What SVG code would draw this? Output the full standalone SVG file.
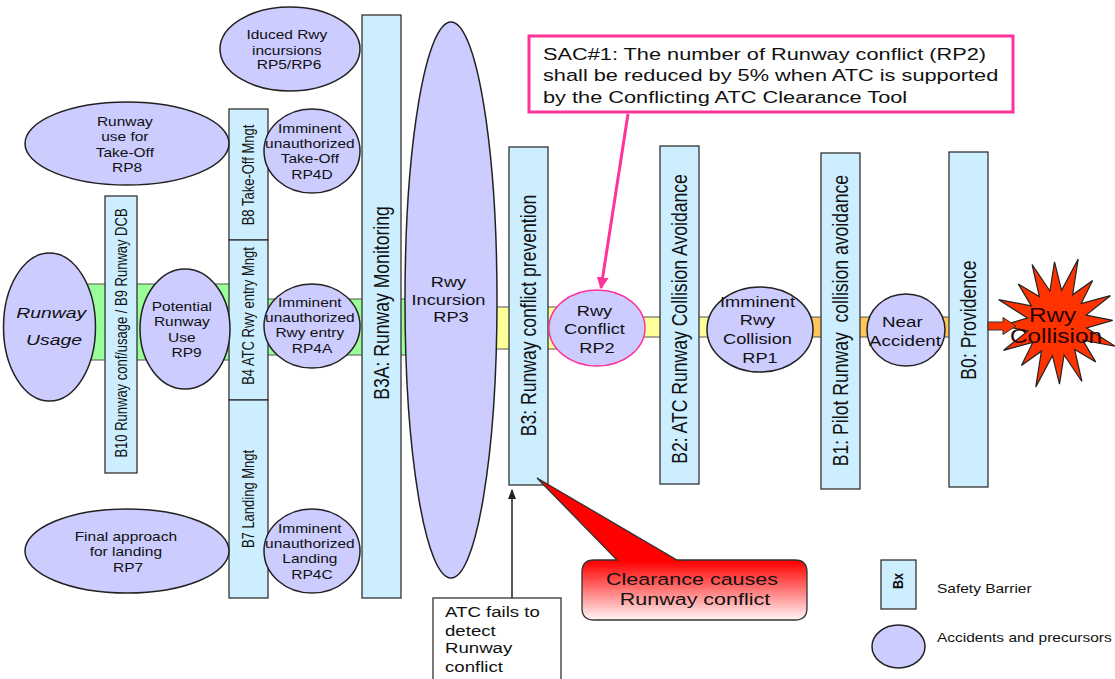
<svg xmlns="http://www.w3.org/2000/svg" width="1115" height="679" viewBox="0 0 1115 679">
  <defs>
    <style>
      text { font-family: "Liberation Sans", Arial, Helvetica, sans-serif; fill: #111; }
      .bar { fill: #CCEEFF; stroke: #333; stroke-width: 1.3; }
      .rp { fill: #CCCCFF; stroke: #222; stroke-width: 1.5; }
      .band { stroke: #555; stroke-width: 1; }
      .green { fill: #99FF99; }
      .yellow { fill: #FFFF99; }
      .orange { fill: #FFC65C; }
      .sm { font-size: 12.4px; }
      .md { font-size: 14.6px; }
      .vt { font-size: 17.6px; }
      .vs { font-size: 13px; }
      .c { text-anchor: middle; }
    </style>
    <linearGradient id="calloutFill" gradientUnits="userSpaceOnUse" x1="0" y1="478" x2="0" y2="622">
      <stop offset="0" stop-color="#FF0000"/>
      <stop offset="0.58" stop-color="#FF0000"/>
      <stop offset="1" stop-color="#FFFFFF"/>
    </linearGradient>
    <marker id="pinkHead" viewBox="0 0 10 10" refX="9" refY="5" markerWidth="4" markerHeight="4" orient="auto">
      <path d="M0,0 L10,5 L0,10 Z" fill="#FF3399"/>
    </marker>
    <marker id="blackHead" viewBox="0 0 10 10" refX="9" refY="5" markerWidth="7" markerHeight="7" orient="auto">
      <path d="M0,1 L10,5 L0,9 Z" fill="#222"/>
    </marker>
  </defs>

  <rect width="1115" height="679" fill="#FFFFFF"/>

  <!-- flow pipes and arrows -->
  <g id="connectors">
    <rect class="band green" x="85" y="284" width="146" height="76"/>
    <rect class="band green" x="266" y="299" width="146" height="56"/>
    <rect class="band yellow" x="490" y="307" width="70" height="42"/>
    <rect class="band yellow" x="560" y="317" width="152" height="20"/>
    <rect class="band orange" x="810" y="317" width="142" height="20"/>
    <line x1="628" y1="114" x2="601" y2="288" stroke="#FF3399" stroke-width="3" marker-end="url(#pinkHead)"/>
    <line x1="512" y1="598" x2="512" y2="490" stroke="#222" stroke-width="1.5" marker-end="url(#blackHead)"/>
  </g>

  <!-- safety barriers -->
  <g id="b10-b9">
    <rect class="bar" x="105" y="196" width="32" height="277"/>
    <text class="vs c" transform="translate(121 333) scale(1.25 1) rotate(-90)" dy="0.35em">B10 Runway conf/usage / B9 Runway DCB</text>
  </g>
  <g id="b8">
    <rect class="bar" x="229" y="109" width="39" height="131"/>
    <text class="vs c" transform="translate(248.5 175) scale(1.25 1) rotate(-90)" dy="0.35em">B8 Take-Off Mngt</text>
  </g>
  <g id="b4">
    <rect class="bar" x="229" y="240" width="39" height="160"/>
    <text class="vs c" transform="translate(248.5 316) scale(1.25 1) rotate(-90)" dy="0.35em">B4 ATC Rwy entry Mngt</text>
  </g>
  <g id="b7">
    <rect class="bar" x="229" y="400" width="39" height="198"/>
    <text class="vs c" transform="translate(248.5 499) scale(1.25 1) rotate(-90)" dy="0.35em">B7 Landing Mngt</text>
  </g>
  <g id="b3a">
    <rect class="bar" x="362" y="15" width="39" height="583"/>
    <text class="vt c" transform="translate(381.5 303) scale(1.25 1) rotate(-90)" dy="0.35em">B3A: Runway Monitoring</text>
  </g>
  <g id="b3">
    <rect class="bar" x="509" y="147" width="39" height="338"/>
    <text class="vt c" transform="translate(528.5 315.5) scale(1.25 1) rotate(-90)" dy="0.35em">B3: Runway conflict prevention</text>
  </g>
  <g id="b2">
    <rect class="bar" x="660" y="146" width="39" height="338"/>
    <text class="vt c" transform="translate(679.5 319) scale(1.25 1) rotate(-90)" dy="0.35em">B2: ATC Runway Collision Avoidance</text>
  </g>
  <g id="b1">
    <rect class="bar" x="821" y="153" width="39" height="336"/>
    <text class="vt c" transform="translate(840.5 320.5) scale(1.25 1) rotate(-90)" dy="0.35em" xml:space="preserve">B1: Pilot Runway  collision avoidance</text>
  </g>
  <g id="b0">
    <rect class="bar" x="949" y="152" width="39" height="335"/>
    <text class="vt c" transform="translate(968.5 320) scale(1.25 1) rotate(-90)" dy="0.35em">B0: Providence</text>
  </g>

  <!-- accidents and precursors -->
  <g id="runway-usage">
    <ellipse class="rp" cx="49.5" cy="327" rx="46" ry="74"/>
    <text class="c" style="font-size:15.5px;font-style:italic" transform="translate(54 0) scale(1.25 1)">
      <tspan x="0" y="318">Runway</tspan>
      <tspan x="0" y="345">Usage</tspan>
    </text>
  </g>
  <g id="rp9">
    <ellipse class="rp" cx="185" cy="329" rx="45" ry="60"/>
    <text class="sm c" transform="translate(184 0) scale(1.25 1)">
      <tspan x="0" y="311">Potential</tspan>
      <tspan x="0" y="326">Runway</tspan>
      <tspan x="0" y="342">Use</tspan>
      <tspan x="2" y="357">RP9</tspan>
    </text>
  </g>
  <g id="rp4a">
    <ellipse class="rp" cx="312" cy="326" rx="48" ry="42"/>
    <text class="sm c" transform="translate(312 0) scale(1.25 1)">
      <tspan x="0" y="307">Imminent</tspan>
      <tspan x="0" y="322">unauthorized</tspan>
      <tspan x="0" y="337">Rwy entry</tspan>
      <tspan x="0" y="353">RP4A</tspan>
    </text>
  </g>
  <g id="rp8">
    <ellipse class="rp" cx="127" cy="143.5" rx="102" ry="41.5"/>
    <text class="sm c" transform="translate(127 0) scale(1.25 1)">
      <tspan x="0" y="126">Runway</tspan>
      <tspan x="0" y="141">use for</tspan>
      <tspan x="0" y="157">Take-Off</tspan>
      <tspan x="0" y="172">RP8</tspan>
    </text>
  </g>
  <g id="rp4d">
    <ellipse class="rp" cx="312" cy="151" rx="48" ry="42"/>
    <text class="sm c" transform="translate(312 0) scale(1.25 1)">
      <tspan x="0" y="133">Imminent</tspan>
      <tspan x="0" y="148">unauthorized</tspan>
      <tspan x="0" y="163">Take-Off</tspan>
      <tspan x="0" y="179">RP4D</tspan>
    </text>
  </g>
  <g id="rp5-rp6">
    <ellipse class="rp" cx="290" cy="49" rx="70" ry="42"/>
    <text class="sm c" transform="translate(289 0) scale(1.25 1)">
      <tspan x="0" y="39">Iduced Rwy</tspan>
      <tspan x="0" y="55">incursions</tspan>
      <tspan x="0" y="69">RP5/RP6</tspan>
    </text>
  </g>
  <g id="rp7">
    <ellipse class="rp" cx="127" cy="551" rx="102" ry="42"/>
    <text class="sm c" transform="translate(128 0) scale(1.25 1)">
      <tspan x="0" y="541">Final approach</tspan>
      <tspan x="0" y="556">for landing</tspan>
      <tspan x="0" y="572">RP7</tspan>
    </text>
  </g>
  <g id="rp4c">
    <ellipse class="rp" cx="312" cy="551" rx="48" ry="42"/>
    <text class="sm c" transform="translate(312 0) scale(1.25 1)">
      <tspan x="0" y="533">Imminent</tspan>
      <tspan x="0" y="548">unauthorized</tspan>
      <tspan x="0" y="563">Landing</tspan>
      <tspan x="0" y="579">RP4C</tspan>
    </text>
  </g>
  <g id="rp3">
    <ellipse class="rp" cx="451" cy="300" rx="46" ry="278"/>
    <text class="md c" transform="translate(451 0) scale(1.25 1)">
      <tspan x="0" y="287">Rwy</tspan>
      <tspan x="0" y="305">Incursion</tspan>
      <tspan x="0" y="322">RP3</tspan>
    </text>
  </g>
  <g id="rp2">
    <ellipse class="rp" cx="597" cy="328" rx="48" ry="38" style="stroke:#FF3399"/>
    <text class="md c" transform="translate(597 0) scale(1.25 1)">
      <tspan x="0" y="316">Rwy</tspan>
      <tspan x="0" y="334">Conflict</tspan>
      <tspan x="0" y="353">RP2</tspan>
    </text>
  </g>
  <g id="rp1">
    <ellipse class="rp" cx="760" cy="329.5" rx="53" ry="42.5"/>
    <text class="md c" transform="translate(760 0) scale(1.25 1)">
      <tspan x="0" y="307">Imminent</tspan>
      <tspan x="0" y="325">Rwy</tspan>
      <tspan x="0" y="344">Collision</tspan>
      <tspan x="0" y="363">RP1</tspan>
    </text>
  </g>
  <g id="near-accident">
    <ellipse class="rp" cx="906" cy="330" rx="39" ry="36"/>
    <text class="c" style="font-size:15px" transform="translate(905 0) scale(1.25 1)">
      <tspan x="0" y="327">Near</tspan>
      <tspan x="0" y="346">Accident</tspan>
    </text>
  </g>
  <g id="rwy-collision">
    <path d="M1078.2,259.1 L1072.6,294.8 L1092.6,280.4 L1081.2,303.5 L1110.4,295.7 L1086.1,315.1 L1112.7,320.3 L1086.6,328 L1115.3,346.3 L1082.7,340.1 L1095.8,362.1 L1074.7,349.6 L1081.9,381.5 L1064.1,355 L1059.5,384.1 L1052.4,355.6 L1035.8,386.9 L1041.4,351.2 L1021.4,365.6 L1032.8,342.5 L1003.6,350.3 L1027.9,330.9 L1001.3,325.7 L1027.4,318 L998.7,299.7 L1031.4,305.9 L1018.2,283.9 L1039.3,296.4 L1032.1,264.5 L1049.9,291 L1054.5,261.9 L1061.6,290.4 Z" fill="#FF3300" stroke="#222" stroke-width="1.2"/>
    <text class="c" style="font-size:19.5px;fill:#2a0000" transform="translate(1056 0) scale(1.25 1)">
      <tspan x="0" y="322">Rwy</tspan>
      <tspan x="0" y="343">Collision</tspan>
    </text>
  </g>
  <path id="collision-arrow" d="M988,322 L1003,322 L1003,317.5 L1016,326 L1003,334.5 L1003,330 L988,330 Z" fill="#FF3300" stroke="#333" stroke-width="1"/>

  <!-- requirement note -->
  <g id="sac1">
    <rect x="529" y="36" width="484" height="76" fill="#FFFFFF" stroke="#FF3399" stroke-width="3"/>
    <text style="font-size:17.4px" transform="translate(543 0) scale(1.25 1)">
      <tspan x="0" y="60">SAC#1: The number of Runway conflict (RP2)</tspan>
      <tspan x="0" y="81.5">shall be reduced by 5% when ATC is supported</tspan>
      <tspan x="0" y="103">by the Conflicting ATC Clearance Tool</tspan>
    </text>
  </g>

  <!-- hazard callout -->
  <g id="clearance-callout">
    <path d="M594,560 L617,560 L537,478 L677,560 L795,560 Q807,560 807,572 L807,608 Q807,620 795,620 L594,620 Q582,620 582,608 L582,572 Q582,560 594,560 Z" fill="url(#calloutFill)" stroke="#333" stroke-width="1.3"/>
    <text class="c" style="font-size:17.2px" transform="translate(695 0) scale(1.25 1)">
      <tspan x="0" y="585">Clearance causes</tspan>
      <tspan x="0" y="605">Runway conflict</tspan>
    </text>
  </g>

  <g id="atc-fails">
    <rect x="433" y="598" width="128" height="100" fill="#FFFFFF" stroke="#333" stroke-width="1.3"/>
    <text style="font-size:14.9px" transform="translate(445 0) scale(1.25 1)">
      <tspan x="0" y="617">ATC fails to</tspan>
      <tspan x="0" y="636">detect</tspan>
      <tspan x="0" y="653">Runway</tspan>
      <tspan x="0" y="672">conflict</tspan>
    </text>
  </g>

  <!-- legend -->
  <g id="legend-barrier">
    <rect class="bar" x="881" y="560" width="35" height="49"/>
    <text class="c" style="font-size:12.5px;font-weight:bold" transform="translate(898 581) scale(1.2 1) rotate(-90)" dy="0.35em">Bx</text>
    <text class="sm" transform="translate(937 0) scale(1.25 1)" x="0" y="593">Safety Barrier</text>
  </g>
  <g id="legend-precursor">
    <ellipse class="rp" cx="898.5" cy="646.5" rx="26.5" ry="21.5"/>
    <text class="sm" transform="translate(937 0) scale(1.25 1)" x="0" y="642">Accidents and precursors</text>
  </g>
</svg>
